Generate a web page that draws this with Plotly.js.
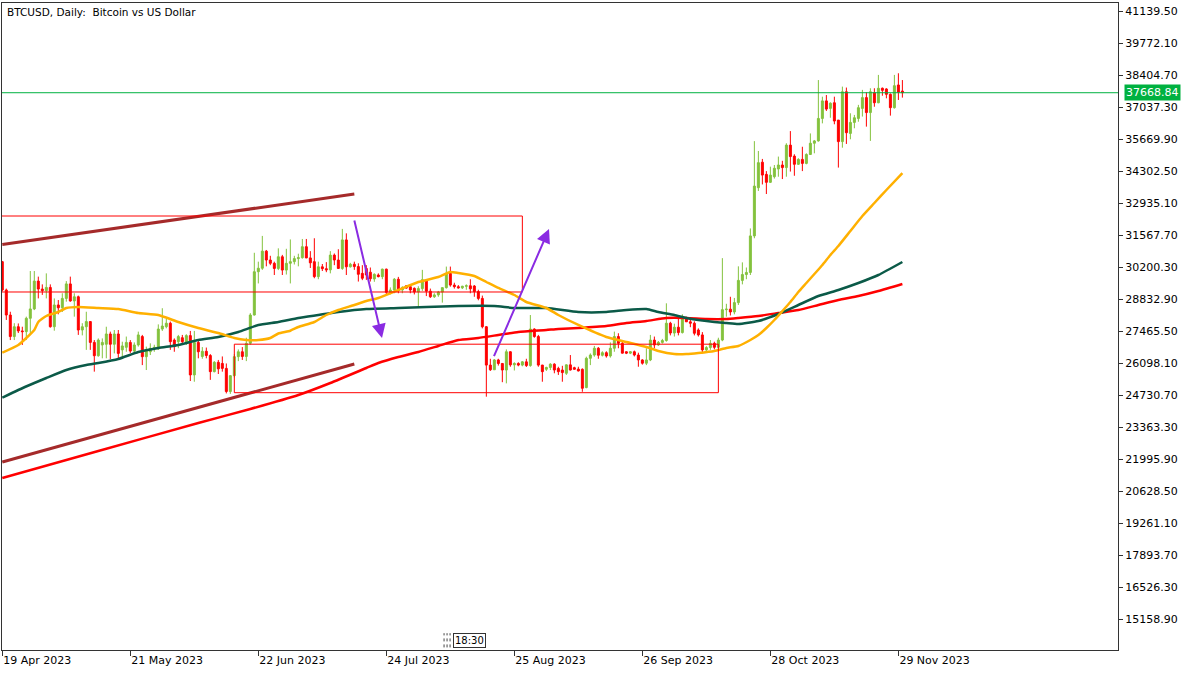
<!DOCTYPE html>
<html><head><meta charset="utf-8">
<script src="https://cdn.plot.ly/plotly-3.0.1.min.js"></script>
<style>html,body{margin:0;padding:0;background:#fff}#chart{width:1200px;height:675px}</style>
</head><body><div id="chart"></div>
<script>
// ---------- DATA ----------
const firstDay = '2023-04-19';
const opens = [30450,29240,28170,27250,27670,27490,27460,28030,28430,29620,29280,29210,29350,27670,28600,28480,28880,29500,28770,28950,
27530,27670,27890,27000,26430,26890,26920,27360,26920,27360,26680,26790,27000,26630,26890,27250,26390,26600,26720,26720,
27570,27670,27820,27100,27030,27200,27000,27290,25610,27000,26400,26620,26440,25750,26150,26100,25890,24900,25580,26390,
26600,26400,26960,28170,30020,30170,30900,30520,30380,30160,30660,30090,30380,30450,30580,30620,31090,30610,30450,29810,
30230,30150,30100,30730,30520,30160,31380,30230,30340,30240,29950,30160,30000,29710,29880,29810,30130,29140,29240,29700,
29240,29420,29380,29310,29160,29300,29680,29190,28950,29030,29150,29340,29950,29450,29380,29330,29400,29420,29410,29170,
28880,27670,26030,25830,26250,26100,25820,26600,26040,26100,26030,26170,26010,27570,27250,26030,25850,25930,26070,25890,
25820,25680,26040,25920,25860,25850,25070,26320,26460,26750,26450,26560,26420,26750,27250,26960,26600,26540,26600,26460,
26250,26110,26250,27100,26890,27000,27080,27820,27400,27650,27420,28030,27880,27820,27530,27320,26680,26780,26960,26790,
27100,28400,28420,28300,28700,29650,29900,29990,31550,33610,34700,34180,33840,34080,34410,34580,34470,35430,34960,34610,
34820,34650,35030,35510,35610,36570,37320,37000,37240,36500,35580,37710,35930,36400,36570,37000,37460,36820,37670,37240,
37860,37830,37600,37030,38000,37740];
const highs = [30480,29300,28310,27820,27810,27670,28100,30050,30050,29810,29480,29950,29480,28880,28810,29100,29620,29810,29100,29000,
27820,28310,27890,27100,27170,27170,27670,27460,27530,27530,27030,27250,27100,27000,27460,27320,26820,26960,26900,27770,
28460,28000,27890,27170,27320,27320,27350,27490,27490,27100,26800,26780,26500,26200,26250,26400,26100,25600,26500,26700,
26800,27200,28250,30830,30450,31550,30950,30700,30450,31020,30740,31000,31400,30700,30790,31420,31420,30900,31450,30450,
30350,30430,30900,30800,30980,31850,31660,30400,30450,30380,30300,30300,30200,29950,29950,30150,30150,29350,29750,29800,
29400,29450,29450,29350,29400,30100,29700,29300,29100,29200,29350,30240,30240,29550,29450,29420,29480,29700,29450,29250,
29000,27700,26300,26290,26300,26120,26700,26620,26150,26150,26200,26300,28170,27600,27320,26040,25960,26110,26110,25960,
26000,26060,26460,25960,25960,25890,26390,26530,26850,26800,26620,26620,27000,27460,27390,27100,26620,26620,26650,26560,
26280,26750,27320,27250,27060,27150,28670,27880,27800,28000,28200,28100,28000,27900,27600,27440,26840,27100,27030,27200,
30600,28650,28950,28900,30250,30420,30200,31870,35600,35180,34840,34320,34510,34580,34940,34760,35510,36030,35040,34870,
35360,35080,35930,35650,38210,37500,37570,37260,37500,36500,37930,37890,36790,36720,37150,37790,37690,37860,37860,38430,
37890,37860,37640,38430,38500,38210];
const lows = [29180,27960,27100,27100,27400,26890,27100,27320,28380,28880,29030,28880,27630,27500,28200,28300,28740,28740,28100,27320,
27300,26680,26680,25750,26390,26320,26320,26290,26530,26320,26320,26600,26550,26550,26820,26030,25820,26460,26600,26680,
27490,27600,26680,26600,26750,26960,26890,25350,25320,26320,26300,26320,25400,25720,25650,25750,24820,24800,25500,26200,
26250,26200,26900,28150,29520,30100,30250,30300,29880,30090,29880,29900,29520,30330,30250,30580,30600,30180,29740,29700,
30050,30000,29950,30300,30150,30100,29880,30200,30100,29600,29660,29670,29600,29590,29780,29700,29050,29050,29100,29100,
29100,29300,29100,29050,28520,29200,28980,28900,28900,28950,28700,29300,29380,29300,29300,29280,29250,29100,28950,28800,
27600,24680,25780,25830,26010,25300,25250,25960,25800,25980,25980,25950,25960,27200,25960,25320,25780,25820,25680,25610,
25320,25610,25800,25850,25760,24890,25040,26030,26390,26300,26400,26350,26350,26600,26750,26530,26500,26500,26400,25960,
26050,26030,26200,26750,26850,26950,27030,27300,27250,27300,27380,27880,27650,27300,27250,26530,26600,26680,26700,26750,
27050,28100,28150,28200,28600,29480,29700,29880,31450,33470,33750,33340,33810,34000,34080,33980,34080,34300,34120,34580,
34320,34610,35010,35080,35580,36360,36890,36600,36320,34470,35320,35480,35680,36150,36430,36650,36220,35610,37070,37220,
37540,37430,36690,36990,37360,37460];
const closes = [29240,28170,27250,27670,27490,27460,28030,28430,29620,29280,29210,29350,27670,28600,28480,28880,29500,28770,28950,27530,
27670,27890,27000,26430,27100,27000,27360,26920,27360,26530,26850,27000,26630,26890,27320,26390,26680,26750,26790,27570,
27700,27820,27030,26820,27250,27030,27290,25610,27000,26600,26620,26440,25750,26150,25870,25890,24900,25580,26390,26600,
26400,26960,28170,30020,30170,30900,30520,30380,30160,30660,30090,30380,30450,30580,30620,31090,30610,30400,29810,30230,
30150,30100,30730,30520,30160,31380,30230,30340,30240,29910,29740,29880,29720,29910,29810,30130,29140,29240,29700,29220,
29340,29320,29240,29160,29300,29680,29190,28950,29030,29150,29340,29950,29450,29380,29330,29400,29420,29290,29170,28880,
27670,26030,25830,26250,26100,25820,26600,26040,26100,26030,26170,26010,27570,27250,26030,25750,25930,26070,25820,25750,
25710,26040,25820,25850,25780,25040,26320,26460,26750,26450,26560,26420,26750,27250,26960,26540,26540,26600,26460,26250,
26110,26250,27100,26890,27000,27080,27820,27400,27650,27420,28030,27880,27820,27390,27320,26680,26780,26960,26790,27100,
28400,28420,28300,28700,29650,29900,29990,31550,33680,34680,34150,33840,34150,34440,34580,34470,35430,34940,34610,34820,
34650,35030,35510,35610,36570,37320,36970,37220,36460,35580,37710,35960,36400,36600,37030,37460,36820,37710,37240,37860,
37770,37600,37030,37970,37690,37669];

// moving averages
const maFastDates = ['2023-04-19','2023-04-23','2023-04-25','2023-04-27','2023-04-28','2023-04-30','2023-05-03','2023-05-05','2023-05-08','2023-05-13',
'2023-05-18','2023-05-23','2023-05-28','2023-06-02','2023-06-07','2023-06-12','2023-06-16','2023-06-19','2023-06-22','2023-06-25',
'2023-06-27','2023-06-30','2023-07-02','2023-07-06','2023-07-09','2023-07-12','2023-07-16','2023-07-19','2023-07-22','2023-07-27',
'2023-08-01','2023-08-06','2023-08-09','2023-08-11','2023-08-15','2023-08-18','2023-08-21','2023-08-25','2023-08-28','2023-09-02',
'2023-09-05','2023-09-10','2023-09-17','2023-09-22','2023-09-27','2023-09-30','2023-10-04','2023-10-07','2023-10-10','2023-10-14',
'2023-10-17','2023-10-20','2023-10-23','2023-10-25','2023-10-27','2023-10-29','2023-10-31','2023-11-02','2023-11-04','2023-11-06',
'2023-11-08','2023-11-10','2023-11-12','2023-11-14','2023-11-17','2023-11-20','2023-11-23','2023-11-26','2023-11-30'];
const maFastValues = [26560,26889,27188,27530,27872,28128,28299,28470,28513,28470,
28427,28256,28171,27872,27615,27402,27188,27103,27103,27188,
27380,27500,27658,27872,28171,28385,28598,28769,28897,29239,
29581,29794,30008,29965,29837,29581,29325,29026,28727,28470,
28171,27744,27231,27017,26804,26633,26505,26505,26548,26633,
26761,26846,27103,27316,27615,27957,28342,28726,29154,29538,
29923,30307,30735,31119,31760,32401,32956,33512,34238];

const maMidDates = ['2023-04-19','2023-04-23','2023-04-27','2023-04-30','2023-05-05','2023-05-10','2023-05-13','2023-05-18','2023-05-23','2023-05-28',
'2023-06-02','2023-06-07','2023-06-12','2023-06-17','2023-06-22','2023-06-27','2023-07-02','2023-07-07','2023-07-12','2023-07-19',
'2023-07-27','2023-08-03','2023-08-11','2023-08-20','2023-08-25','2023-09-02','2023-09-10','2023-09-17','2023-09-22','2023-09-27',
'2023-09-30','2023-10-04','2023-10-07','2023-10-10','2023-10-14','2023-10-17','2023-10-20','2023-10-25','2023-10-30','2023-11-04',
'2023-11-09','2023-11-14','2023-11-19','2023-11-24','2023-11-30'];
const maMidValues = [24637,24966,25265,25479,25821,26035,26120,26291,26590,26761,
26889,27103,27231,27444,27744,27872,28043,28171,28299,28427,
28470,28513,28556,28556,28470,28470,28299,28299,28385,28427,
28299,28171,28043,27958,27872,27829,27786,27915,28214,28598,
28983,29239,29538,29880,30436];

const maSlowDates = ['2023-04-19','2023-05-13','2023-06-07','2023-06-20','2023-07-02','2023-07-10','2023-07-19','2023-07-22','2023-07-27','2023-08-01',
'2023-08-06','2023-08-11','2023-08-16','2023-08-21','2023-08-26','2023-09-02','2023-09-05','2023-09-10','2023-09-17','2023-09-22',
'2023-09-27','2023-10-02','2023-10-07','2023-10-12','2023-10-17','2023-10-20','2023-10-25','2023-10-30','2023-11-04','2023-11-09',
'2023-11-14','2023-11-19','2023-11-24','2023-11-30'];
const maSlowValues = [21206,22360,23557,24155,24753,25266,25907,26121,26377,26591,
26847,27103,27189,27317,27445,27530,27573,27616,27701,27829,
27915,28043,28043,28000,28000,28043,28128,28256,28385,28598,
28812,28983,29197,29496];

// drawn objects (dates / prices)
const trendUpperDates = ['2023-04-19','2023-07-16'];
const trendUpperPrices = [31183,33341];
const trendLowerDates = ['2023-04-19','2023-07-16'];
const trendLowerPrices = [21889,26077];
const zoneHighDates = ['2023-03-01','2023-08-27'];
const zoneHighPrices = [29154,32401];
const zoneLowDates = ['2023-06-16','2023-10-15'];
const zoneLowPrices = [24851,26923];
const arrowDownDates = ['2023-07-15 22:00','2023-07-22 22:00'];
const arrowDownPrices = [32273,27188];
const arrowUpDates = ['2023-08-19 18:00','2023-09-02 16:00'];
const arrowUpPrices = [26346,31846];
const lastPrice = 37668.84;

const priceTicks = [15158.90,16526.30,17893.70,19261.10,20628.50,21995.90,23363.30,24730.70,26098.10,27465.50,
28832.90,30200.30,31567.70,32935.10,34302.50,35669.90,37037.30,38404.70,39772.10,41139.50];
const dateTickVals = ['2023-04-19','2023-05-21','2023-06-22','2023-07-24','2023-08-25','2023-09-26','2023-10-28','2023-11-29'];
const dateTickText = ['19 Apr 2023','21 May 2023','22 Jun 2023','24 Jul 2023','25 Aug 2023','26 Sep 2023','28 Oct 2023','29 Nov 2023'];

// ---------- BUILD ----------
const days = [];
{
  const d0 = new Date(firstDay + 'T00:00:00Z');
  for (let i = 0; i < closes.length; i++) {
    const d = new Date(d0.getTime() + i * 86400000);
    days.push(d.toISOString().slice(0, 10));
  }
}
const FONT = 'DejaVu Sans';
const upColor = '#84c23e', downColor = '#ff0000';

const traces = [
  {type:'candlestick', x:days, open:opens, high:highs, low:lows, close:closes,
   increasing:{line:{color:upColor, width:1}, fillcolor:upColor},
   decreasing:{line:{color:downColor, width:1}, fillcolor:downColor},
   whiskerwidth:0, hoverinfo:'skip', showlegend:false},
  {type:'scatter', mode:'lines', x:maSlowDates, y:maSlowValues, line:{color:'#ff0000', width:2.5, shape:'spline', smoothing:0.5}, hoverinfo:'skip'},
  {type:'scatter', mode:'lines', x:maMidDates, y:maMidValues, line:{color:'#0b5a48', width:2.5, shape:'spline', smoothing:0.5}, hoverinfo:'skip'},
  {type:'scatter', mode:'lines', x:maFastDates, y:maFastValues, line:{color:'#ffb000', width:2.5, shape:'spline', smoothing:0.5}, hoverinfo:'skip'},
  {type:'scatter', mode:'lines', x:trendUpperDates, y:trendUpperPrices, line:{color:'#a52a2a', width:3}, hoverinfo:'skip'},
  {type:'scatter', mode:'lines', x:trendLowerDates, y:trendLowerPrices, line:{color:'#a52a2a', width:3}, hoverinfo:'skip'}
];

const shapes = [
  {type:'rect', xref:'x', yref:'y', x0:zoneHighDates[0], x1:zoneHighDates[1], y0:zoneHighPrices[0], y1:zoneHighPrices[1], line:{color:'#ff0000', width:1}, fillcolor:'rgba(0,0,0,0)', layer:'above'},
  {type:'rect', xref:'x', yref:'y', x0:zoneLowDates[0], x1:zoneLowDates[1], y0:zoneLowPrices[0], y1:zoneLowPrices[1], line:{color:'#ff0000', width:1}, fillcolor:'rgba(0,0,0,0)', layer:'above'},
  {type:'line', xref:'paper', yref:'y', x0:0, x1:1, y0:lastPrice, y1:lastPrice, line:{color:'#00b140', width:1}, layer:'above'},
  {type:'line', xref:'paper', yref:'paper', x0:0.3961, x1:0.3961, y0:0.004, y1:0.026, line:{color:'#444', width:1, dash:'dot'}},
  {type:'line', xref:'paper', yref:'paper', x0:0.3988, x1:0.3988, y0:0.004, y1:0.026, line:{color:'#444', width:1, dash:'dot'}},
  {type:'line', xref:'paper', yref:'paper', x0:0.4015, x1:0.4015, y0:0.004, y1:0.026, line:{color:'#444', width:1, dash:'dot'}}
];

const annotations = [
  {xref:'x', yref:'y', axref:'x', ayref:'y', x:arrowDownDates[1], y:arrowDownPrices[1], ax:arrowDownDates[0], ay:arrowDownPrices[0],
   text:'', showarrow:true, arrowhead:2, arrowsize:1.4, arrowwidth:2, arrowcolor:'#8a2be2'},
  {xref:'x', yref:'y', axref:'x', ayref:'y', x:arrowUpDates[1], y:arrowUpPrices[1], ax:arrowUpDates[0], ay:arrowUpPrices[0],
   text:'', showarrow:true, arrowhead:2, arrowsize:1.4, arrowwidth:2, arrowcolor:'#8a2be2'},
  {xref:'paper', yref:'y', x:1, y:lastPrice, xanchor:'left', yanchor:'middle', xshift:6, showarrow:false,
   text:lastPrice.toFixed(2), bgcolor:'#00b140', borderpad:1, font:{family:FONT, size:11, color:'#ffffff'}},
  {xref:'paper', yref:'paper', x:0.4045, y:0.015, xanchor:'left', yanchor:'middle', showarrow:false,
   text:'18:30', bordercolor:'#333', borderwidth:1, borderpad:1, bgcolor:'#fff', font:{family:FONT, size:10, color:'#000'}}
];

const layout = {
  width:1200, height:675,
  margin:{l:2, r:82, t:3, b:25, pad:0},
  paper_bgcolor:'#ffffff', plot_bgcolor:'#ffffff',
  showlegend:false,
  title:{text:'BTCUSD, Daily:  Bitcoin vs US Dollar', x:7/1200, xanchor:'left', y:1-12/675, yanchor:'middle',
         xref:'container', yref:'container', font:{family:FONT, size:10.5, color:'#000'}},
  xaxis:{type:'date', range:['2023-04-18 22:12','2024-01-22 21:36'], rangeslider:{visible:false},
         showgrid:false, zeroline:false, showline:true, mirror:true, linecolor:'#333', linewidth:1,
         tickmode:'array', tickvals:dateTickVals, ticktext:dateTickText, ticks:'outside', ticklen:5, tickcolor:'#333',
         ticklabelposition:'outside right', tickfont:{family:FONT, size:11, color:'#000'}, fixedrange:true},
  yaxis:{side:'right', range:[13856, 41503], showgrid:false, zeroline:false, showline:true, mirror:true,
         linecolor:'#333', linewidth:1, tickmode:'array', tickvals:priceTicks, ticktext:priceTicks.map(v => v.toFixed(2)),
         ticks:'outside', ticklen:4, tickcolor:'#333', tickfont:{family:FONT, size:11, color:'#000'}, fixedrange:true},
  shapes:shapes, annotations:annotations
};

Plotly.newPlot('chart', traces, layout, {displayModeBar:false, staticPlot:true});
</script>
</body></html>
